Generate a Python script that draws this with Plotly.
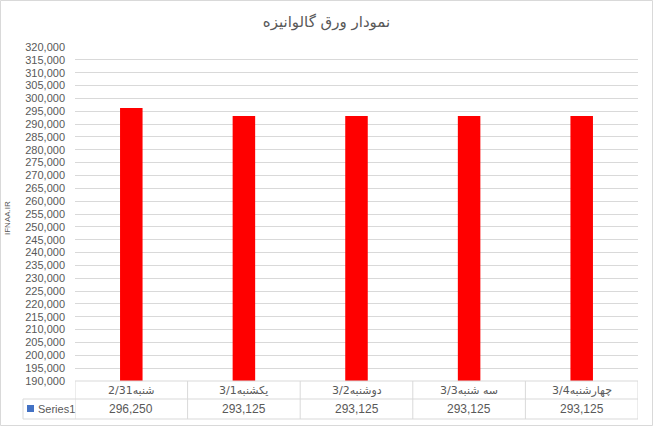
import plotly.graph_objects as go

title_text = "نمودار ورق گالوانیزه"
categories = ["2/31شنبه", "3/1یکشنبه", "3/2دوشنبه", "3/3سه شنبه", "3/4چهارشنبه"]
values = [296250, 293125, 293125, 293125, 293125]
series_name = "Series1"
y_title = "IFNAA.IR"
y_min, y_max, y_step = 190000, 320000, 5000

W, H = 653, 427
ML, MR, MT, MB = 75, 15, 47, 46
PW, PH = W - ML - MR, H - MT - MB

def px(x):
    return (x - ML) / PW

def py(y):
    return (H - MB - y) / PH

GRID = "#d9d9d9"
TXT = "#595959"
FONT = "Liberation Sans, DejaVu Sans, sans-serif"

fig = go.Figure()
fig.add_trace(go.Bar(x=list(range(len(categories))), y=values, marker_color="#ff0000",
                     marker_line_width=0, name=series_name, showlegend=False))

shapes = []
annotations = []
n = len(categories)
for yy in [381, 399, 419]:
    x0 = px(75) if yy == 381 else px(23)
    shapes.append(dict(type="line", xref="paper", yref="paper", x0=x0, x1=1,
                       y0=py(yy), y1=py(yy), line=dict(color=GRID, width=1)))
for i in range(n + 1):
    shapes.append(dict(type="line", xref="x", yref="paper", x0=i - 0.5, x1=i - 0.5,
                       y0=py(381), y1=py(419), line=dict(color=GRID, width=1)))
shapes.append(dict(type="line", xref="paper", yref="paper", x0=px(23), x1=px(23),
                   y0=py(399), y1=py(419), line=dict(color=GRID, width=1)))
shapes.append(dict(type="rect", xref="paper", yref="paper", x0=px(27), x1=px(34),
                   y0=py(412), y1=py(405), fillcolor="#4472c4", line=dict(width=0)))
shapes.append(dict(type="rect", xref="paper", yref="paper", x0=px(0.5), x1=px(652.5),
                   y0=py(425.5), y1=py(0.5), line=dict(color=GRID, width=1)))

for i, (c, v) in enumerate(zip(categories, values)):
    annotations.append(dict(x=i, y=py(390), xref="x", yref="paper", text=c, showarrow=False,
                            xanchor="center", yanchor="middle",
                            font=dict(family="DejaVu Sans, sans-serif", size=11, color=TXT)))
    annotations.append(dict(x=i, y=py(409), xref="x", yref="paper", text=f"{v:,}", showarrow=False,
                            xanchor="center", yanchor="middle",
                            font=dict(family=FONT, size=12, color=TXT)))
annotations.append(dict(x=px(36), y=py(409), xref="paper", yref="paper", text=series_name,
                        showarrow=False, xanchor="left", yanchor="middle",
                        font=dict(family=FONT, size=11, color=TXT)))
annotations.append(dict(x=px(7), y=py(218), xref="paper", yref="paper", text=y_title, textangle=-90,
                        showarrow=False, xanchor="center", yanchor="middle",
                        font=dict(family=FONT, size=8, color=TXT)))

fig.update_layout(
    width=W, height=H,
    margin=dict(l=ML, r=MR, t=MT, b=MB),
    paper_bgcolor="white", plot_bgcolor="white",
    title=dict(text=title_text, x=0.5, xref="container", xanchor="center",
               y=1 - 22 / H, yref="container", yanchor="middle",
               font=dict(family="DejaVu Sans, sans-serif", size=15, color=TXT)),
    bargap=0.8,
    xaxis=dict(range=[-0.5, n - 0.5], showticklabels=False, showgrid=False, zeroline=False,
               showline=False, fixedrange=True),
    yaxis=dict(range=[y_min, y_max], dtick=y_step, tick0=y_min, tickformat=",", showgrid=True,
               gridcolor=GRID, gridwidth=1, zeroline=False, showline=False, ticks="",
               ticklabelstandoff=9, tickfont=dict(family=FONT, size=11, color=TXT)),
    shapes=shapes, annotations=annotations, showlegend=False,
)
fig.write_html("out.html", config={"displayModeBar": False},
               post_script="document.body.style.margin='0';document.body.style.overflow='hidden';")
